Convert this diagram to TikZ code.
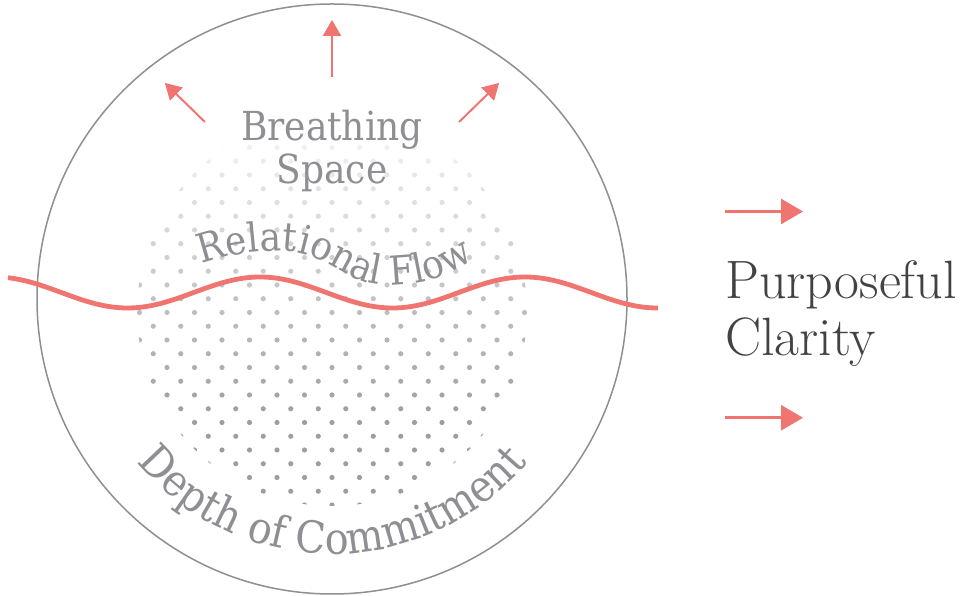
\documentclass[tikz,border=0pt]{standalone}
\usepackage{fontspec}
\usepackage{tikz}
\usetikzlibrary{arrows.meta, positioning, decorations.text}
\newfontfamily\slabfont[FakeStretch=0.9]{DejaVu Serif}
\definecolor{coral}{RGB}{240,117,112}
\definecolor{ringgrey}{RGB}{143,143,146}
\definecolor{labelgrey}{RGB}{142,142,147}
\definecolor{inkgrey}{RGB}{66,66,66}
\tikzset{
    ringlabel/.style={font=\slabfont\fontsize{40}{43}\selectfont, text=labelgrey, align=center, inner sep=0pt},
    outlabel/.style={font=\fontsize{54}{57}\selectfont, text=inkgrey, align=left, inner sep=0pt},
    pusharr/.style={-{Triangle[length=16pt,width=18pt]}, coral, line width=2pt},
    flowarr/.style={-{Triangle[length=22pt,width=25pt]}, coral, line width=3pt},
}

\begin{document}
\begin{tikzpicture}[x=1pt, y=1pt,
  ring/.style={draw=ringgrey, line width=1.5pt},
  wave/.style={draw=coral, line width=4.8pt},
  curvetext/.style 2 args={decorate, decoration={text along path, text color=labelgrey, text align=center, text={|\slabfont\fontsize{#1}{43}\selectfont|#2}}}
]
\useasboundingbox (0,0) rectangle (968,596);
\coordinate (crown) at (332,297);

% dotted core, lighter towards the top
\begin{scope}
  \clip (332,285) circle[radius=195pt];
  \foreach \k in {-14,...,12} {
    \pgfmathsetmacro\rowy{256-13.75*\k}
    \pgfmathsetmacro\rowx{13.75*int(mod(\k+20,2))}
    \pgfmathsetmacro\shade{min(38,6+32*(448.5-\rowy)/272.5)}
    \foreach \j in {-8,...,8}
      \fill[black!\shade] (332+\rowx+27.5*\j, \rowy) circle[radius=2.6pt];
  }
\end{scope}

\draw[ring] (crown) circle[radius=295pt];

% one and a bit periods of 265pt
\draw[wave] plot[domain=8:658, samples=120, smooth] (\x, {303.5+15.5*cos(1.3585*(\x-260))});

\node[ringlabel] (breath) at (332,445) {Breathing\\Space};
\draw[pusharr] ([yshift=33]breath.north) -- ++(0,57);
\draw[pusharr] ([xshift=-36,yshift=-12]breath.north west) -- ++(-40,39);
\draw[pusharr] ([xshift=36,yshift=-12]breath.north east) -- ++(40,39);

\path[curvetext={40}{Relational Flow}] (184,326) to[out=20,in=180] (282,345) to[out=0,in=180] (388,311) to[out=0,in=215] (490,347);
\path[curvetext={44}{Depth of Commitment}] (crown) ++(216:255) arc[start angle=216, end angle=324, radius=255pt];

\node[outlabel,anchor=north west] (purpose) at (725,335.5) {Purposeful\\Clarity};
\draw[flowarr] ([yshift=49]purpose.north west) -- ++(78,0);
\draw[flowarr] ([yshift=-51]purpose.south west) -- ++(78,0);
\end{tikzpicture}
\end{document}
